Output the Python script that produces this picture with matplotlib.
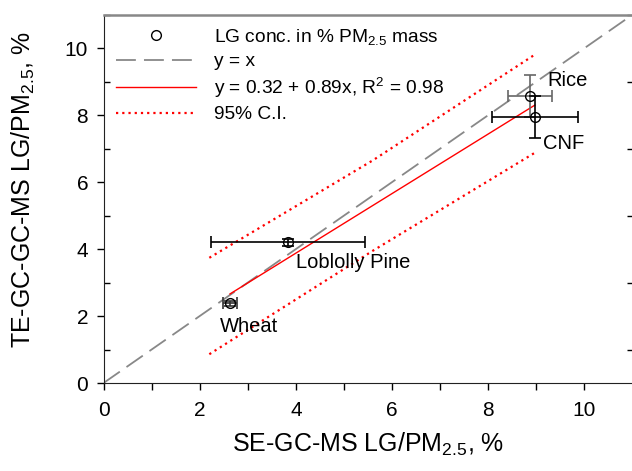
import matplotlib
matplotlib.use("Agg")
import matplotlib.pyplot as plt
from matplotlib.ticker import MultipleLocator

plt.rcParams['font.family'] = ['Liberation Sans', 'DejaVu Sans']
plt.rcParams['mathtext.fontset'] = 'custom'
plt.rcParams['mathtext.rm'] = 'Liberation Sans'
plt.rcParams['mathtext.it'] = 'Liberation Sans'

# samples: SE-GC-MS (x) vs TE-GC-GC-MS (y), LG as % of PM2.5 mass
names = ['Wheat', 'Loblolly Pine', 'Rice', 'CNF']
x_vals = [2.63, 3.84, 8.87, 8.97]
y_vals = [2.38, 4.20, 8.57, 7.95]
x_err = [0.15, 1.60, 0.45, 0.90]
y_err = [0.08, 0.10, 0.62, 0.62]
bar_colors = ['#333333', 'black', '#666666', 'black']
label_pos = [(2.42, 1.70), (4.00, 3.61), (9.24, 9.04), (9.14, 7.16)]

# fit y = 0.32 + 0.89x and its 95% band
fit_x = [2.63, 8.97]
fit_y = [2.66, 8.30]
band_x = [2.20, 5.60, 8.95]
band_hi = [3.74, 6.65, 9.79]
band_lo = [0.86, 3.95, 6.86]

fig = plt.figure(figsize=(6.32, 4.71), dpi=100)
ax = fig.add_axes([0.1638, 0.1868, 0.837, 0.782])

ax.plot([0, 11], [0, 11], color='#888888', lw=1.3, dashes=(11, 4.5), label='y = x')
ax.plot(fit_x, fit_y, color='red', lw=1.0, label='y = 0.32 + 0.89x, R$^2$ = 0.98')
ax.plot(band_x, band_hi, color='red', lw=1.6, ls=(0, (1, 1.8)), label='95% C.I.')
ax.plot(band_x, band_lo, color='red', lw=1.6, ls=(0, (1, 1.8)))

for i in range(len(names)):
    ax.errorbar(x_vals[i], y_vals[i], xerr=x_err[i], yerr=y_err[i], fmt='none',
                ecolor=bar_colors[i], elinewidth=1.2, capsize=4, capthick=1.2)
    ax.text(label_pos[i][0], label_pos[i][1], names[i], fontsize=14.5,
            ha='left', va='center')
ax.plot(x_vals, y_vals, 'o', mfc='none', mec='black', ms=7, mew=1.0,
        label='LG conc. in % PM$_{2.5}$ mass')

h, l = ax.get_legend_handles_labels()
order = [3, 0, 1, 2]
ax.legend([h[k] for k in order], [l[k] for k in order], loc='upper left',
          frameon=False, fontsize=13.8, handlelength=4.2, labelspacing=0.3,
          bbox_to_anchor=(0.0, 1.0), borderaxespad=0.25, handletextpad=0.9)

ax.set_xlim(0, 11)
ax.set_ylim(0, 11)
ax.xaxis.set_minor_locator(MultipleLocator(1))
ax.yaxis.set_minor_locator(MultipleLocator(1))
ax.set_xticks([0, 2, 4, 6, 8, 10])
ax.set_yticks([0, 2, 4, 6, 8, 10])
ax.tick_params(which='both', direction='out', length=5, width=1, labelsize=15)
ax.tick_params(axis='y', which='minor', right=True, direction='in', length=4)
ax.tick_params(axis='x', pad=8)
ax.tick_params(axis='y', pad=6)

ax.spines['top'].set_color('#888888')
ax.spines['top'].set_linewidth(1.8)
ax.spines['right'].set_visible(False)
for s in ['left', 'bottom']:
    ax.spines[s].set_color('#222222')

ax.set_xlabel('SE-GC-MS LG/PM$_{2.5}$, %', fontsize=18, labelpad=8)
ax.set_ylabel('TE-GC-GC-MS LG/PM$_{2.5}$, %', fontsize=18)
ax.yaxis.set_label_coords(-0.125, 0.524)

fig.savefig('out.png', dpi=100)
